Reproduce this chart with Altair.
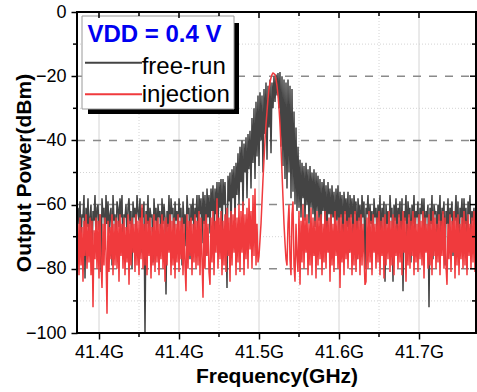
import altair as alt
import pandas as pd

# ---- sweep grid (one sample per screen pixel column) ----
sweep_start = 41.32375
sweep_step = 0.00125

# ---- free-run spectrum (dBm) ----
free_run = [
    -61, -66, -59, -72, -63, -64, -57, -83, -61, -67, -58, -70, -64, -60, -76, -62, -65, -57, -71, -61,
    -60, -68, -63, -81, -58, -64, -61, -74, -57, -66, -59, -69, -63, -61, -79, -57, -65, -63, -73, -59,
    -61, -67, -58, -64, -57, -77, -63, -64, -60, -71, -61, -58, -66, -62, -80, -59, -64, -61, -69, -57,
    -62, -65, -58, -75, -61, -64, -59, -100, -62, -66, -57, -72, -61, -64, -63, -78, -58, -65, -61, -70,
    -60, -64, -62, -74, -58, -66, -60, -64, -88, -62, -67, -57, -71, -58, -63, -61, -76, -59, -65, -62,
    -69, -58, -64, -61, -79, -59, -66, -63, -73, -57, -63, -61, -77, -60, -65, -58, -70, -61, -64, -57,
    -74, -57, -63, -58, -72, -56, -66, -57, -76, -55, -64, -57, -69, -55, -62, -54, -73, -55, -63, -53,
    -68, -53, -61, -52, -71, -52, -60, -53, -66, -86, -51, -59, -50, -68, -49, -58, -48, -65, -47, -57,
    -44, -60, -42, -53, -40, -62, -41, -50, -39, -58, -38, -49, -37, -55, -33, -47, -30, -52, -28, -45,
    -26, -48, -25, -40, -26, -50, -24, -38, -22, -46, -23, -36, -21, -44, -22, -30, -20, -28, -19.5, -26,
    -19, -30, -18.7, -42, -20, -48, -21, -52, -22, -55, -21, -50, -23, -58, -24, -56, -31, -60, -36, -62,
    -42, -61, -46, -64, -47, -58, -48, -65, -47, -60, -49, -66, -48, -61, -50, -63, -49, -67, -50, -62,
    -51, -65, -52, -69, -53, -62, -52, -66, -54, -70, -53, -63, -55, -68, -54, -64, -56, -71, -55, -65,
    -54, -69, -56, -64, -57, -73, -56, -63, -58, -67, -56, -75, -57, -64, -58, -70, -57, -63, -59, -77,
    -58, -65, -60, -72, -57, -64, -59, -80, -61, -63, -57, -69, -60, -66, -62, -74, -58, -64, -61, -70,
    -60, -67, -57, -73, -61, -64, -59, -84, -60, -66, -62, -71, -57, -64, -61, -84, -60, -65, -58, -69,
    -61, -64, -59, -74, -58, -87, -62, -65, -57, -72, -59, -64, -61, -78, -60, -66, -57, -70, -62, -64,
    -59, -75, -61, -63, -58, -68, -58, -73, -62, -64, -60, -92, -61, -66, -57, -77, -60, -63, -62, -70,
    -60, -65, -57, -74, -61, -63, -59, -79, -62, -66, -58, -71, -61, -64, -59, -76, -62, -65, -57, -69,
    -59, -78, -61, -64, -58, -72, -58, -66, -61, -80, -59, -63, -57, -70, -62, -65, -61, -74, -60, -66,
]

# ---- injection-locked spectrum (dBm) ----
injection = [
    -66, -82, -64, -79, -67, -84, -65, -76, -63, -80, -66, -78, -64, -82, -65, -92, -68, -77, -64, -80,
    -65, -83, -63, -78, -86, -66, -79, -64, -75, -94, -65, -81, -67, -77, -63, -82, -66, -79, -64, -80,
    -65, -84, -63, -76, -66, -80, -64, -82, -67, -78, -63, -85, -65, -79, -64, -75, -66, -81, -63, -79,
    -65, -82, -64, -77, -60, -80, -66, -79, -63, -82, -65, -76, -64, -83, -67, -79, -63, -81, -65, -78,
    -64, -82, -66, -77, -63, -80, -65, -84, -64, -79, -66, -75, -63, -82, -65, -79, -64, -83, -66, -78,
    -63, -81, -65, -77, -64, -82, -66, -79, -87, -63, -80, -65, -76, -64, -82, -66, -78, -63, -80, -65,
    -79, -62, -82, -64, -77, -89, -65, -80, -63, -76, -66, -81, -85, -64, -78, -62, -82, -65, -75, -58,
    -80, -64, -77, -62, -82, -65, -79, -63, -81, -61, -76, -64, -84, -62, -79, -63, -75, -61, -82, -64,
    -78, -60, -81, -62, -75, -59, -82, -63, -77, -61, -80, -58, -74, -62, -80, -57, -76, -55, -79, -66,
    -78, -76, -71, -66, -59, -52, -46, -40, -35, -31, -27, -24, -22, -20.5, -19.5, -19, -19.2, -19.5, -21, -23,
    -26, -30, -35, -42, -50, -58, -66, -72, -77, -79, -66, -60, -77, -82, -63, -59, -79, -84, -66, -76,
    -81, -62, -85, -65, -78, -60, -80, -64, -75, -63, -82, -66, -79, -61, -82, -64, -76, -65, -83, -62,
    -79, -64, -77, -63, -82, -66, -78, -62, -80, -65, -75, -64, -84, -63, -79, -66, -81, -62, -76, -65,
    -80, -64, -86, -63, -78, -66, -82, -62, -77, -65, -80, -64, -75, -63, -82, -66, -79, -62, -81, -65,
    -77, -64, -82, -63, -79, -66, -76, -85, -84, -64, -80, -62, -78, -65, -82, -63, -75, -66, -80, -64,
    -78, -62, -82, -65, -76, -64, -83, -63, -79, -66, -77, -62, -81, -65, -79, -63, -82, -64, -76, -66,
    -80, -63, -78, -65, -82, -62, -75, -64, -84, -66, -79, -63, -80, -65, -76, -62, -82, -64, -78, -66,
    -81, -63, -77, -65, -79, -62, -83, -64, -75, -66, -80, -63, -79, -65, -82, -62, -76, -64, -80, -66,
    -78, -63, -82, -65, -76, -62, -80, -64, -79, -85, -66, -77, -63, -81, -65, -75, -62, -83, -64, -79,
    -63, -82, -66, -77, -64, -80, -62, -79, -65, -82, -63, -76, -66, -80, -64, -78, -62, -81, -65, -77,
]

# ---- axes / grid ----
x_major = [41.35, 41.45, 41.55, 41.65, 41.75]
x_major_labels = ["41.4G", "41.4G", "41.5G", "41.6G", "41.7G"]
x_minor = [41.40, 41.50, 41.60, 41.70]
y_major = [0, -20, -40, -60, -80, -100]
y_dashed = [-20, -40, -60, -80]
y_minor = [-10, -30, -50, -70, -90]

legend_title = "VDD = 0.4 V"
series_names = ["free-run", "injection"]

X_DOMAIN = [41.3225, 41.82125]
Y_DOMAIN = [-100, 0]
W, H = 399, 321
GRAY = "#444444"
RED = "#f03a3d"
FONT = "Liberation Sans"

xs = alt.Scale(domain=X_DOMAIN, nice=False, zero=False)
ys = alt.Scale(domain=Y_DOMAIN, nice=False, zero=False)

label_expr = " : ".join(
    f"abs(datum.value - {v}) < 0.001 ? '{l}'" for v, l in zip(x_major, x_major_labels)
) + " : ''"

x_axis = alt.Axis(
    values=x_major, labelExpr=label_expr, grid=False, domain=False,
    tickSize=6, tickWidth=1.5, tickColor="black",
    labelFont=FONT, labelFontSize=18, labelColor="black", labelPadding=4,
    labelFlush=False, labelOverlap=False,
    title="Frequency(GHz)", titleFont=FONT, titleFontSize=21,
    titleFontWeight="bold", titleColor="black", titlePadding=4)
y_axis = alt.Axis(
    values=y_major, format="d", grid=False, domain=False,
    tickSize=6, tickWidth=1.5, tickColor="black",
    labelFont=FONT, labelFontSize=18, labelColor="black", labelPadding=5,
    labelOverlap=False,
    title="Output Power(dBm)", titleFont=FONT, titleFontSize=21,
    titleFontWeight="bold", titleColor="black", titlePadding=-9)

X = lambda: alt.X("freq:Q", scale=xs, axis=x_axis)
Y = lambda: alt.Y("power:Q", scale=ys, axis=y_axis)

df_free = pd.DataFrame({
    "freq": [sweep_start + sweep_step * i for i in range(len(free_run))],
    "power": free_run,
})
df_inj = pd.DataFrame({
    "freq": [sweep_start + sweep_step * i for i in range(len(injection))],
    "power": injection,
})

one = alt.Data(values=[{}])

# grid
vgrid_major = alt.Chart(pd.DataFrame({"freq": x_major})).mark_rule(
    color="#d4d4d4", strokeWidth=1
).encode(x=X(), y=alt.value(0), y2=alt.value(H))
vgrid_minor = alt.Chart(pd.DataFrame({"freq": x_minor})).mark_rule(
    color="#d4d4d4", strokeWidth=1, strokeDash=[1, 2]
).encode(x=X(), y=alt.value(0), y2=alt.value(H))
hgrid_minor = alt.Chart(pd.DataFrame({"power": y_minor})).mark_rule(
    color="#d4d4d4", strokeWidth=1, strokeDash=[1, 2]
).encode(y=Y(), x=alt.value(0), x2=alt.value(W))
hgrid_dash = alt.Chart(pd.DataFrame({"power": y_dashed})).mark_rule(
    color="#8a8a8a", strokeWidth=1.5, strokeDash=[8, 8]
).encode(y=Y(), x=alt.value(0), x2=alt.value(W))

# traces
gray_line = alt.Chart(df_free).mark_line(color=GRAY, strokeWidth=1.5, clip=True).encode(
    x=X(), y=Y())
red_line = alt.Chart(df_inj).mark_line(color=RED, strokeWidth=1.5, clip=True).encode(
    x=X(), y=Y())

# manual ticks: minor outward on bottom/left, inward on top/right
bottom_minor = alt.Chart(pd.DataFrame({"freq": x_minor})).mark_rule(
    color="black", strokeWidth=1.5
).encode(x=X(), y=alt.value(H), y2=alt.value(H + 4))
top_major = alt.Chart(pd.DataFrame({"freq": x_major})).mark_rule(
    color="black", strokeWidth=1.5
).encode(x=X(), y=alt.value(0), y2=alt.value(6))
top_minor = alt.Chart(pd.DataFrame({"freq": x_minor})).mark_rule(
    color="black", strokeWidth=1.5
).encode(x=X(), y=alt.value(0), y2=alt.value(4))
left_minor = alt.Chart(pd.DataFrame({"power": y_minor})).mark_rule(
    color="black", strokeWidth=1.5
).encode(y=Y(), x=alt.value(-4), x2=alt.value(0))
right_major = alt.Chart(pd.DataFrame({"power": y_major})).mark_rule(
    color="black", strokeWidth=1.5
).encode(y=Y(), x=alt.value(W - 6), x2=alt.value(W))
right_minor = alt.Chart(pd.DataFrame({"power": y_minor})).mark_rule(
    color="black", strokeWidth=1.5
).encode(y=Y(), x=alt.value(W - 4), x2=alt.value(W))

# legend box
shadow = alt.Chart(one).mark_rect(color="black").encode(
    x=alt.value(11), x2=alt.value(162), y=alt.value(11), y2=alt.value(102))
box = alt.Chart(one).mark_rect(fill="white", stroke="#9a9a9a", strokeWidth=1).encode(
    x=alt.value(5), x2=alt.value(157), y=alt.value(4), y2=alt.value(97))
leg_title = alt.Chart(one).mark_text(
    text=legend_title, font=FONT, fontSize=24, fontWeight="bold", color="#0000f0",
    align="left", baseline="alphabetic"
).encode(x=alt.value(10.5), y=alt.value(29.7))
leg_gray = alt.Chart(one).mark_rule(color=GRAY, strokeWidth=2).encode(
    x=alt.value(8), x2=alt.value(65), y=alt.value(50.7))
leg_red = alt.Chart(one).mark_rule(color=RED, strokeWidth=2).encode(
    x=alt.value(8), x2=alt.value(65), y=alt.value(82.3))
leg_t1 = alt.Chart(one).mark_text(
    text=series_names[0], font=FONT, fontSize=24, color="black",
    align="left", baseline="alphabetic"
).encode(x=alt.value(64.7), y=alt.value(62))
leg_t2 = alt.Chart(one).mark_text(
    text=series_names[1], font=FONT, fontSize=24, color="black",
    align="left", baseline="alphabetic"
).encode(x=alt.value(64.7), y=alt.value(89.7))

frame = alt.Chart(one).mark_rect(filled=False, stroke="black", strokeWidth=2).encode(
    x=alt.value(0), x2=alt.value(W), y=alt.value(0), y2=alt.value(H))

chart = alt.layer(
    vgrid_major, vgrid_minor, hgrid_minor, hgrid_dash,
    gray_line, red_line,
    shadow, box, leg_title, leg_gray, leg_red, leg_t1, leg_t2,
    bottom_minor, top_major, top_minor, left_minor, right_major, right_minor,
    frame,
).properties(
    width=W, height=H,
    autosize=alt.AutoSizeParams(type="none"),
    padding={"left": 77, "top": 12, "right": 1, "bottom": 59},
    background="white",
).configure_view(stroke=None)

chart.save("out.html", embed_options={"renderer": "svg", "actions": False})
